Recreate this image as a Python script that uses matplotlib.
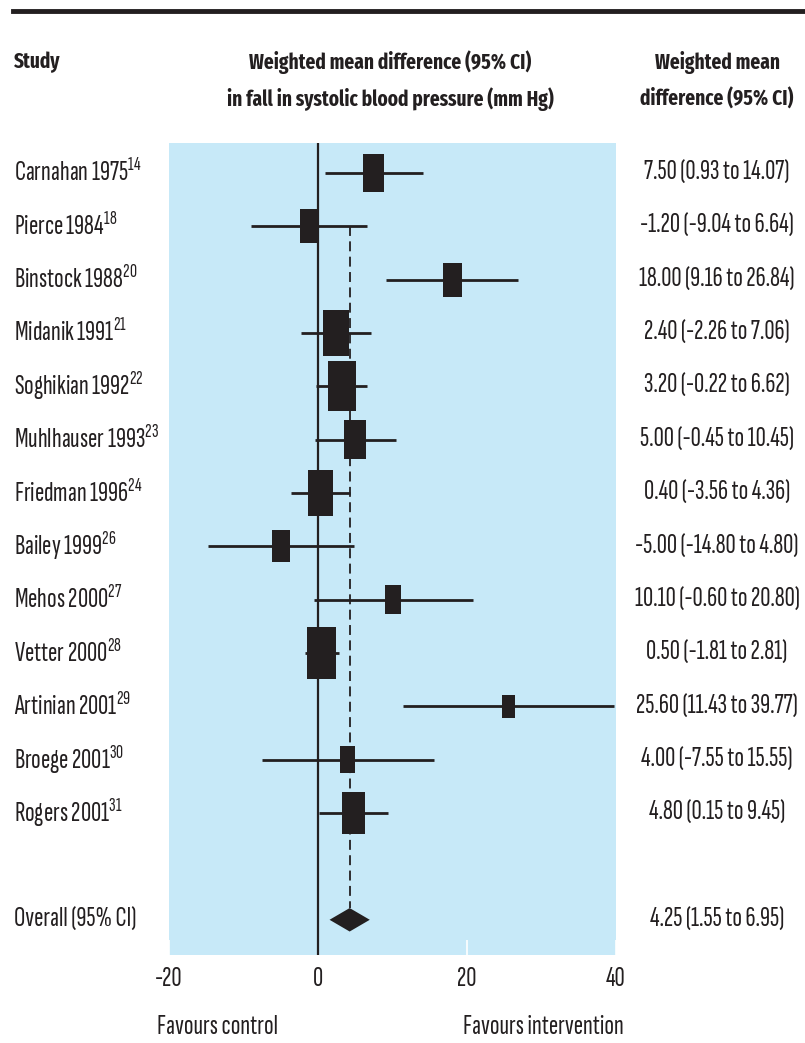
import numpy as np
import matplotlib
matplotlib.use("Agg")
import matplotlib.pyplot as plt
from matplotlib.lines import Line2D
from matplotlib.patches import Rectangle, Polygon
from matplotlib.textpath import TextPath
from matplotlib.font_manager import FontProperties
import matplotlib.transforms as mtransforms

# trials in the meta-analysis (fall in systolic BP, mm Hg)
studies = ["Carnahan 1975", "Pierce 1984", "Binstock 1988", "Midanik 1991",
           "Soghikian 1992", "Muhlhauser 1993", "Friedman 1996", "Bailey 1999",
           "Mehos 2000", "Vetter 2000", "Artinian 2001", "Broege 2001",
           "Rogers 2001"]
refs = ["14", "18", "20", "21", "22", "23", "24", "26", "27", "28", "29", "30", "31"]
wmd = [7.50, -1.20, 18.00, 2.40, 3.20, 5.00, 0.40, -5.00, 10.10, 0.50, 25.60, 4.00, 4.80]
ci_low = [0.93, -9.04, 9.16, -2.26, -0.22, -0.45, -3.56, -14.80, -0.60, -1.81, 11.43, -7.55, 0.15]
ci_high = [14.07, 6.64, 26.84, 7.06, 6.62, 10.45, 4.36, 4.80, 20.80, 2.81, 39.77, 15.55, 9.45]
# approximate % weights (box area)
weights = [7.3, 5.9, 5.9, 11.1, 12.9, 8.0, 10.3, 5.3, 4.2, 13.8, 2.8, 3.7, 8.7]

overall = 4.25
overall_low = 1.55
overall_high = 6.95

xticks = [-20, 0, 20, 40]

ink = "#231f20"
W, H = 805, 1043

body_family = ["Sofia Sans Extra Condensed", "Fira Sans Extra Condensed",
               "Saira Extra Condensed", "Barlow Condensed", "DejaVu Sans"]
head_family = ["Fira Sans Extra Condensed", "Saira Extra Condensed",
               "Barlow Condensed", "DejaVu Sans"]
plt.rcParams["font.family"] = body_family
plt.rcParams["mathtext.default"] = "regular"

fig = plt.figure(figsize=(W / 100, H / 100), dpi=100)
renderer = fig.canvas.get_renderer()


def fit_size(s, target_w, target_cap, family, weight="normal"):
    # largest size at which s is no wider than target_w px and caps no taller than target_cap px
    t = fig.text(0, 0, s, fontsize=10, fontweight=weight, family=family)
    w = t.get_window_extent(renderer).width
    t.remove()
    cap = TextPath((0, 0), "H", size=10,
                   prop=FontProperties(family=family, weight=weight)).get_extents().height * 100 / 72
    return min(10 * target_w / w, 10 * target_cap / cap)


fs = fit_size("Carnahan 1975", 113, 22, body_family)
fs_head = fit_size("Weighted mean difference (95% CI)", 282, 23, head_family, weight="bold")

ax = fig.add_axes([169 / W, 1 - 955 / H, 447 / W, 812 / H])
ax.set_facecolor("#c7e9f8")
ax.set_xlim(-20, 40)
ax.set_ylim(14.66, -0.56)
for s in ax.spines.values():
    s.set_visible(False)

rows = np.arange(len(studies))
overall_row = len(studies) + 1

# data units per pixel, used to size the boxes
ux = 60 / 447
uy = (14.66 + 0.56) / 812

ax.axvline(0, color=ink, lw=1.6, zorder=2)
ax.vlines(overall, 1, overall_row - 0.22, color=ink, lw=1.3,
          linestyles=(0, (5.5, 3)), zorder=2)
ax.hlines(rows, ci_low, ci_high, color=ink, lw=2.0, zorder=3)

for r, m, wt in zip(rows, wmd, weights):
    wpx = 7.8 * np.sqrt(wt)
    hpx = 1.8 * wpx
    ax.add_patch(Rectangle((m - wpx * ux / 2, r - hpx * uy / 2), wpx * ux, hpx * uy,
                           facecolor=ink, edgecolor="none", zorder=4))

dh = 0.22
ax.add_patch(Polygon([(overall_low, overall_row), (overall, overall_row - dh),
                      (overall_high, overall_row), (overall, overall_row + dh)],
                     closed=True, facecolor=ink, edgecolor="none", zorder=4))

ax.set_yticks([])
ax.set_xticks(xticks)
ax.set_xticklabels([str(t) for t in xticks])
ax.tick_params(axis="x", direction="in", length=11, width=1.2, color="white",
               pad=9, labelsize=fs, labelcolor=ink)

# row labels on left and right
trans = mtransforms.blended_transform_factory(fig.transFigure, ax.transData)
for r, name, ref in zip(rows, studies, refs):
    ax.text(14 / W, r, f"{name}$^{{{ref}}}$", transform=trans, ha="left",
            va="center", fontsize=fs, color=ink, clip_on=False)
for r, m, lo, hi in zip(rows, wmd, ci_low, ci_high):
    ax.text(717 / W, r, f"{m:.2f} ({lo:.2f} to {hi:.2f})", transform=trans,
            ha="center", va="center", fontsize=fs, color=ink, clip_on=False)
ax.text(14 / W, overall_row, "Overall (95% CI)", transform=trans, ha="left",
        va="center", fontsize=fs, color=ink, clip_on=False)
ax.text(717 / W, overall_row,
        f"{overall:.2f} ({overall_low:.2f} to {overall_high:.2f})",
        transform=trans, ha="center", va="center", fontsize=fs, color=ink,
        clip_on=False)

# header
fig.add_artist(Line2D([13 / W, 1], [1 - 11 / H] * 2, lw=3.5, color=ink))
hdr = dict(fontsize=fs_head, fontweight="bold", family=head_family, color=ink, va="center")
fig.text(14 / W, 1 - 62 / H, "Study", ha="left", **hdr)
fig.text(390 / W, 1 - 62 / H, "Weighted mean difference (95% CI)", ha="center", **hdr)
fig.text(390 / W, 1 - 99 / H, "in fall in systolic blood pressure (mm Hg)", ha="center", **hdr)
fig.text(717 / W, 1 - 62 / H, "Weighted mean", ha="center", **hdr)
fig.text(717 / W, 1 - 99 / H, "difference (95% CI)", ha="center", **hdr)

fig.text(157 / W, 1 - 1027 / H, "Favours control", ha="left", va="center",
         fontsize=fs, color=ink)
fig.text(624 / W, 1 - 1027 / H, "Favours intervention", ha="right", va="center",
         fontsize=fs, color=ink)

fig.savefig("out.png", dpi=100, facecolor="white")
